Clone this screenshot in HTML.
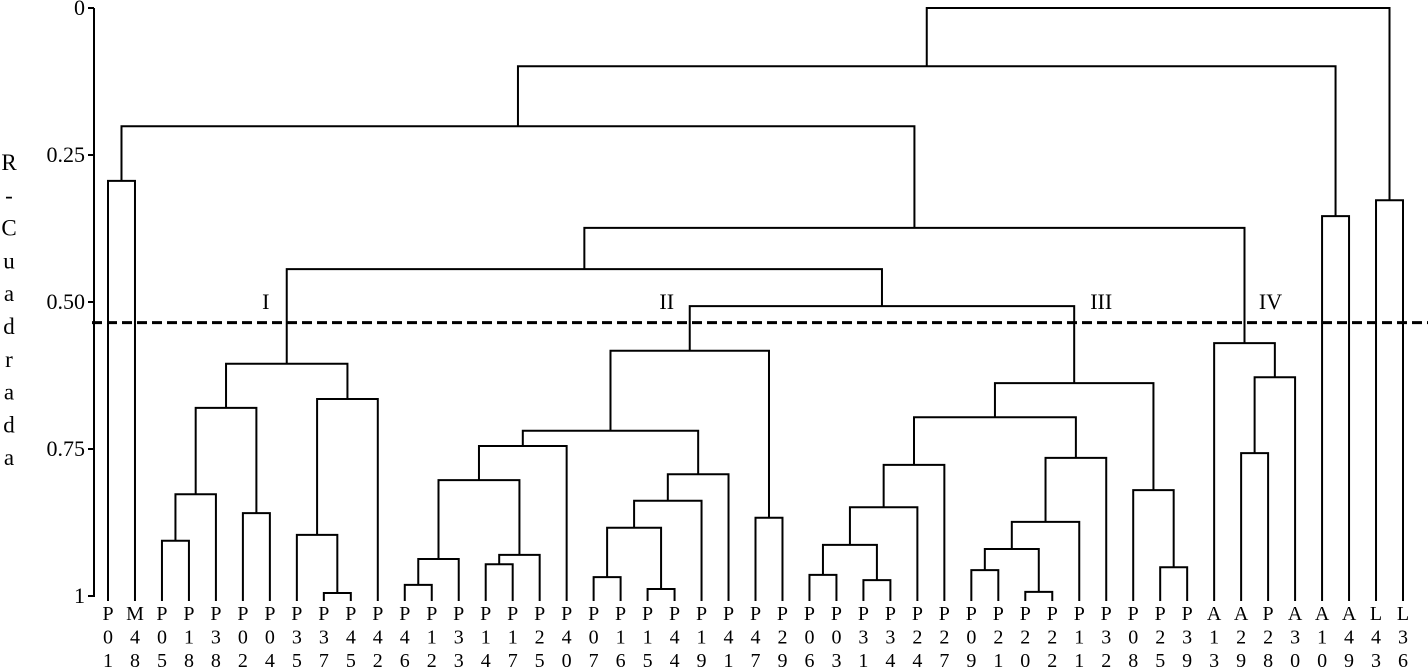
<!DOCTYPE html>
<html><head><meta charset="utf-8"><style>
html,body{margin:0;padding:0;background:#fff;}
svg{display:block;font-family:"Liberation Serif",serif;}
</style></head><body>
<svg id="chart" width="1428" height="667" viewBox="0 0 1428 667" xmlns="http://www.w3.org/2000/svg"></svg>
<script>
const leaves = ["P01","M48","P05","P18","P38","P02","P04","P35","P37","P45","P42","P46","P12","P33","P14","P17","P25","P40","P07","P16","P15","P44","P19","P41","P47","P29","P06","P03","P31","P34","P24","P27","P09","P21","P20","P22","P11","P32","P08","P25","P39","A13","A29","P28","A30","A10","A49","L43","L36"];
// merge k creates node id 100+k; ids < 100 are leaves
const mergeLeft  = [2,100,5,101,8,7,105,103, 11,108,14,110,109,112,18,20,114,116,117,113,24,119, 26,28,122,124,125,32,34,127,129,130,126,39,38,132,121,107, 42,138,41,137,0,142,45,143,47,145];
const mergeRight = [3,4,6,102,9,104,10,106, 12,13,15,16,111,17,19,21,115,22,23,118,25,120, 27,29,123,30,31,33,35,128,36,37,131,40,133,134,135,136, 43,44,139,140,1,141,46,144,48,146];
const mergeHeight= [.906,.827,.859,.680,.995,.896,.665,.605, .981,.937,.946,.930,.803,.745,.968,.988,.884,.838,.793,.719,.867,.583, .964,.973,.913,.849,.777,.956,.993,.920,.874,.765,.696,.951,.820,.638,.507,.444, .757,.628,.570,.374,.294,.201,.354,.099,.327,0];
const yTicks = [0,0.25,0.5,0.75,1];
const yTickLabels = ["0","0.25","0.50","0.75","1"];
const cutHeight = 0.535;
const clusterNames = ["I","II","III","IV"];
const clusterNodes = [107,121,135,140];

const NS="http://www.w3.org/2000/svg";
const svg=document.getElementById('chart');
const y0=8, y1=596, xL=108, xR=1403;
const yScale=v=>y0+v*(y1-y0);
const xScale=i=>xL+i*(xR-xL)/(leaves.length-1);
function mk(t,a){const e=document.createElementNS(NS,t);for(const k in a)e.setAttribute(k,a[k]);svg.appendChild(e);return e;}
const pos={};
leaves.forEach((n,i)=>{pos[i]={x:xScale(i),y:y1+5};});
for(let k=0;k<mergeLeft.length;k++){
  const a=pos[mergeLeft[k]], b=pos[mergeRight[k]], y=yScale(mergeHeight[k]);
  const p=mk('path',{d:`M${a.x},${a.y}V${y}H${b.x}V${b.y}`,fill:'none',stroke:'#000','stroke-width':2});
  
  
  pos[100+k]={x:(a.x+b.x)/2,y:y};
}
// axis
const ax=mk('line',{x1:94,y1:y0,x2:94,y2:y1+1,stroke:'#000','stroke-width':2});


yTicks.forEach((v,i)=>{
  const y=yScale(v);
  const t=mk('line',{x1:88,y1:y,x2:94,y2:y,stroke:'#000','stroke-width':2});
  
  
  const l=mk('text',{x:85,y:y+7,'text-anchor':'end','font-size':22});
  l.textContent=yTickLabels[i];
  
  
});
// axis title
const title="R-Cuadrada";
for(let i=0;i<title.length;i++){
  const t=mk('text',{x:9,y:170+i*32.8,'text-anchor':'middle','font-size':23});
  t.textContent=title[i];
  
  
}
// leaf labels
leaves.forEach((n,i)=>{
  for(let j=0;j<3;j++){
    const t=mk('text',{x:xScale(i),y:620+j*23.5,'text-anchor':'middle','font-size':20});
    t.textContent=n[j];
    
    
  }
});
// cut line
const cl=mk('line',{x1:92,y1:yScale(cutHeight),x2:1428,y2:yScale(cutHeight),stroke:'#000','stroke-width':3,'stroke-dasharray':'10,5'});


const clusterOffsets=[-21,-23,27,26];
clusterNames.forEach((n,i)=>{
  const p=pos[clusterNodes[i]];
  const t=mk('text',{x:p.x+clusterOffsets[i],y:309,'text-anchor':'middle','font-size':22});
  t.textContent=n;
  
  
});
</script>
</body></html>
